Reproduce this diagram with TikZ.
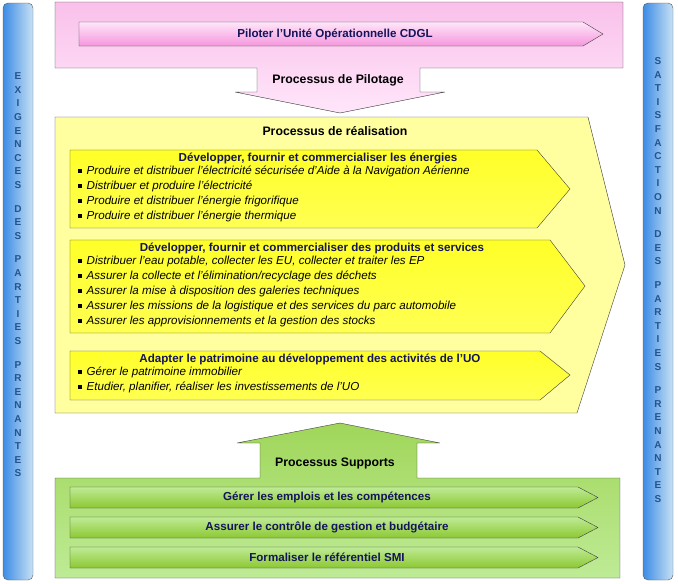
\documentclass[tikz,border=0pt]{standalone}
\usepackage{fontspec}
\setmainfont{Liberation Sans}
\usetikzlibrary{positioning}
\definecolor{navy}{RGB}{20,20,90}
\definecolor{barblue}{RGB}{60,140,230}
\definecolor{barlight}{RGB}{200,225,245}
\definecolor{pinkdark}{RGB}{245,150,220}
\definecolor{pinklight}{RGB}{255,230,250}
\definecolor{yellowpale}{RGB}{255,255,160}
\definecolor{yellowdeep}{RGB}{255,255,40}
\definecolor{greendeep}{RGB}{140,200,50}
\definecolor{greenpale}{RGB}{190,235,150}
\tikzset{
	bar/.style={draw=gray!70!black, rounded corners=5pt, left color=barblue, right color=barlight},
	barletters/.style={text=barblue!60!black, font=\fontsize{10}{13.6}\selectfont\bfseries, align=center},
	title/.style={font=\fontsize{12.3}{14}\selectfont\bfseries},
	head/.style={font=\fontsize{11.6}{13}\selectfont\bfseries, text=navy},
	item/.style={font=\fontsize{11.6}{15}\selectfont\itshape, align=left, anchor=north west, inner sep=0pt},
	yarrow/.style={draw=gray!50!black, top color=yellowdeep, bottom color=yellowdeep!80!white},
	garrow/.style={draw=gray!50!black, top color=greenpale, bottom color=greendeep},
}
\newcommand{\blt}{\rule[0.3ex]{3.5pt}{3.5pt}\hspace{5pt}}
\begin{document}
\begin{tikzpicture}[x=1pt,y=-1pt]
	\useasboundingbox (0,0) rectangle (678,584);
	% side bars
	\draw[bar] (3,3) rectangle (33,580);
	\draw[bar] (643,3) rectangle (673,580);
	\node[barletters] (exig) at (18,275) {E\\X\\I\\G\\E\\N\\C\\E\\S\\[10pt]D\\E\\S\\[10pt]P\\A\\R\\T\\I\\E\\S\\[10pt]P\\R\\E\\N\\A\\N\\T\\E\\S};
	\node[barletters] (satis) at (658,280) {S\\A\\T\\I\\S\\F\\A\\C\\T\\I\\O\\N\\[10pt]D\\E\\S\\[10pt]P\\A\\R\\T\\I\\E\\S\\[10pt]P\\R\\E\\N\\A\\N\\T\\E\\S};
	% pilotage
	\draw[draw=gray!50!black, top color=pinkdark!60!white, bottom color=pinklight]
		(55,2) -- (623,2) -- (623,68) -- (420,68) -- (420,92) -- (445,92) -- (340,113)
		-- (235,92) -- (257,92) -- (257,68) -- (55,68) -- cycle;
	\draw[draw=gray!50!black, top color=pinklight, bottom color=pinkdark]
		(79,22) -- (583,22) -- (603,34) -- (583,46) -- (79,46) -- cycle;
	\node[head] (piloter) at (335,34) {Piloter l’Unité Opérationnelle CDGL};
	\node[title] (pilotage) at (338,80) {Processus de Pilotage};
	% realisation
	\draw[draw=gray!50!black, fill=yellowpale]
		(55,117) -- (588,117) -- (625,265) -- (577,413) -- (55,413) -- cycle;
	\node[title] (realis) at (335,131) {Processus de réalisation};
	\draw[yarrow] (70,150) -- (537,150) -- (570,189) -- (537,228) -- (70,228) -- cycle;
	\node[head] (energies) at (318,158) {Développer, fournir et commercialiser les énergies};
	\node[item] (energiesl) at (78,166) {\blt Produire et distribuer l'électricité sécurisée d'Aide à la Navigation Aérienne\\
		\blt Distribuer et produire l'électricité\\
		\blt Produire et distribuer l'énergie frigorifique\\
		\blt Produire et distribuer l'énergie thermique};
	\draw[yarrow] (70,240) -- (550,240) -- (585,286) -- (550,333) -- (70,333) -- cycle;
	\node[head] (produits) at (312,248) {Développer, fournir et commercialiser des produits et services};
	\node[item] (produitsl) at (78,256) {\blt Distribuer l'eau potable, collecter les EU, collecter et traiter les EP\\
		\blt Assurer la collecte et l'élimination/recyclage des déchets\\
		\blt Assurer la mise à disposition des galeries techniques\\
		\blt Assurer les missions de la logistique et des services du parc automobile\\
		\blt Assurer les approvisionnements et la gestion des stocks};
	\draw[yarrow] (70,351) -- (540,351) -- (570,375) -- (540,400) -- (70,400) -- cycle;
	\node[head] (patrimoine) at (310,359) {Adapter le patrimoine au développement des activités de l’UO};
	\node[item] (patrimoinel) at (78,367) {\blt Gérer le patrimoine immobilier\\
		\blt Etudier, planifier, réaliser les investissements de l'UO};
	% supports
	\draw[draw=gray!50!black, top color=greendeep!60!greenpale, bottom color=greenpale]
		(55,478) -- (260,478) -- (260,443) -- (237,443) -- (340,423) -- (440,443)
		-- (417,443) -- (417,478) -- (620,478) -- (620,578) -- (55,578) -- cycle;
	\node[title] (supports) at (335,463) {Processus Supports};
	\foreach \y/\n/\t in {487/emplois/Gérer les emplois et les compétences,
		517/controle/Assurer le contrôle de gestion et budgétaire,
		547/smi/Formaliser le référentiel SMI}{
		\draw[garrow] (70,\y) -- (578,\y) -- (598,\y+10.5) -- (578,\y+21) -- (70,\y+21) -- cycle;
		\node[head] (\n) at (327,\y+10.5) {\t};
	}
\end{tikzpicture}
\end{document}
